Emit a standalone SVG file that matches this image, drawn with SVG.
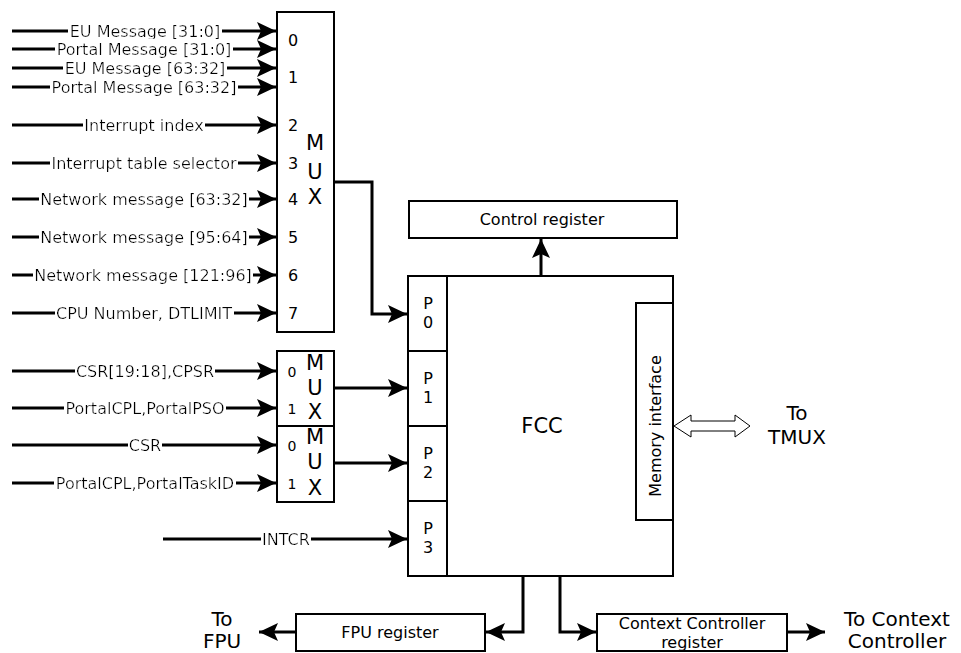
<svg xmlns="http://www.w3.org/2000/svg" width="961" height="653" viewBox="0 0 961 653">
<style>
text{font-family:"DejaVu Sans",Verdana,sans-serif;fill:#000}
.lbl{font-size:16px;text-anchor:middle;dominant-baseline:central}
.num{font-size:16px;text-anchor:middle;dominant-baseline:central}
.sn{font-size:14px;text-anchor:middle;dominant-baseline:central}
.mux{font-size:21px;text-anchor:middle;dominant-baseline:central}
.box{fill:#fff;stroke:#000;stroke-width:2}
.w{stroke:#000;stroke-width:3;fill:none}
.big{font-size:21px;text-anchor:middle;dominant-baseline:central}
.out{font-size:20px;text-anchor:middle;dominant-baseline:central}
.mid{font-size:16px;text-anchor:middle;dominant-baseline:central}
</style>
<defs>
<marker id="ah" markerUnits="userSpaceOnUse" markerWidth="20" markerHeight="20" viewBox="-19 -10 20 20" refX="0" refY="0" orient="auto">
<path d="M0,0 L-19,-9 L-15,0 L-19,9 Z" fill="#000"/>
</marker>
<filter id="bg" x="-0.005" y="0" width="1.01" height="1">
<feFlood flood-color="#fff"/>
<feComposite in="SourceGraphic" operator="over"/>
</filter>
</defs>
<g id="connectors">
<path class="w" d="M12,31 H276" marker-end="url(#ah)"/>
<path class="w" d="M12,49 H276" marker-end="url(#ah)"/>
<path class="w" d="M12,68 H276" marker-end="url(#ah)"/>
<path class="w" d="M12,87 H276" marker-end="url(#ah)"/>
<path class="w" d="M12,125 H276" marker-end="url(#ah)"/>
<path class="w" d="M12,163 H276" marker-end="url(#ah)"/>
<path class="w" d="M12,199 H276" marker-end="url(#ah)"/>
<path class="w" d="M12,237 H276" marker-end="url(#ah)"/>
<path class="w" d="M12,275 H276" marker-end="url(#ah)"/>
<path class="w" d="M12,313 H276" marker-end="url(#ah)"/>
<path class="w" d="M12,371 H276" marker-end="url(#ah)"/>
<path class="w" d="M12,408 H276" marker-end="url(#ah)"/>
<path class="w" d="M12,445 H276" marker-end="url(#ah)"/>
<path class="w" d="M12,483 H276" marker-end="url(#ah)"/>
<path class="w" d="M163,539 H407" marker-end="url(#ah)"/>
<path class="w" d="M334,182 H372 V314 H407" marker-end="url(#ah)"/>
<path class="w" d="M334,388 H407" marker-end="url(#ah)"/>
<path class="w" d="M334,463 H407" marker-end="url(#ah)"/>
<path class="w" d="M541,276 V239" marker-end="url(#ah)"/>
<path class="w" d="M523,577 V632 H486" marker-end="url(#ah)"/>
<path class="w" d="M560,577 V632 H596" marker-end="url(#ah)"/>
<path class="w" d="M296,632 H259" marker-end="url(#ah)"/>
<path class="w" d="M787,632 H825" marker-end="url(#ah)"/>
<path d="M674,426 L691,415 L691,421 L735,421 L735,415 L750,426 L735,437 L735,431 L691,431 L691,437 Z" fill="#fff" stroke="#000" stroke-width="1"/>
<text class="lbl" filter="url(#bg)" x="145" y="31">EU Message [31:0]</text>
<text class="lbl" filter="url(#bg)" x="144" y="49">Portal Message [31:0]</text>
<text class="lbl" filter="url(#bg)" x="145" y="68">EU Message [63:32]</text>
<text class="lbl" filter="url(#bg)" x="144" y="87">Portal Message [63:32]</text>
<text class="lbl" filter="url(#bg)" x="144" y="125">Interrupt index</text>
<text class="lbl" filter="url(#bg)" x="144" y="163">Interrupt table selector</text>
<text class="lbl" filter="url(#bg)" x="144" y="199">Network message [63:32]</text>
<text class="lbl" filter="url(#bg)" x="144" y="237">Network message [95:64]</text>
<text class="lbl" filter="url(#bg)" x="143" y="275">Network message [121:96]</text>
<text class="lbl" filter="url(#bg)" x="144" y="313">CPU Number, DTLIMIT</text>
<text class="lbl" filter="url(#bg)" x="145" y="371">CSR[19:18],CPSR</text>
<text class="lbl" filter="url(#bg)" x="145" y="408">PortalCPL,PortalPSO</text>
<text class="lbl" filter="url(#bg)" x="145" y="445">CSR</text>
<text class="lbl" filter="url(#bg)" x="145" y="483">PortalCPL,PortalTaskID</text>
<text class="lbl" filter="url(#bg)" x="286" y="539">INTCR</text>
</g>
<g id="mux-main">
<rect class="box" x="277" y="12" width="57" height="320"/>
<text class="num" x="293" y="40">0</text>
<text class="num" x="293" y="77">1</text>
<text class="num" x="293" y="125">2</text>
<text class="num" x="293" y="163">3</text>
<text class="num" x="293" y="199">4</text>
<text class="num" x="293" y="237">5</text>
<text class="num" x="293" y="275">6</text>
<text class="num" x="293" y="313">7</text>
<text class="mux" x="315" y="143">M</text>
<text class="mux" x="315" y="172">U</text>
<text class="mux" x="315" y="197">X</text>
</g>
<g id="mux-p1">
<rect class="box" x="277" y="351" width="57" height="75"/>
<text class="sn" x="292" y="372">0</text>
<text class="sn" x="292" y="409">1</text>
<text class="mux" x="315" y="363">M</text>
<text class="mux" x="315" y="388">U</text>
<text class="mux" x="315" y="412">X</text>
</g>
<g id="mux-p2">
<rect class="box" x="277" y="426" width="57" height="76"/>
<text class="sn" x="292" y="446">0</text>
<text class="sn" x="292" y="484">1</text>
<text class="mux" x="315" y="437">M</text>
<text class="mux" x="315" y="462">U</text>
<text class="mux" x="315" y="488">X</text>
</g>
<g id="control-register">
<rect class="box" x="409" y="201" width="268" height="37"/>
<text class="mid" x="542" y="219">Control register</text>
</g>
<g id="fcc">
<rect class="box" x="408" y="276" width="265" height="300"/>
<text class="big" x="542" y="426">FCC</text>
</g>
<g id="p0">
<rect class="box" x="408" y="276" width="39" height="75"/>
<text class="num" x="428" y="303">P</text>
<text class="num" x="428" y="322">0</text>
</g>
<g id="p1">
<rect class="box" x="408" y="351" width="39" height="75"/>
<text class="num" x="428" y="378">P</text>
<text class="num" x="428" y="397">1</text>
</g>
<g id="p2">
<rect class="box" x="408" y="426" width="39" height="75"/>
<text class="num" x="428" y="453">P</text>
<text class="num" x="428" y="472">2</text>
</g>
<g id="p3">
<rect class="box" x="408" y="501" width="39" height="75"/>
<text class="num" x="428" y="528">P</text>
<text class="num" x="428" y="547">3</text>
</g>
<g id="memory-interface">
<rect class="box" x="636" y="303" width="37" height="217"/>
<text class="mid" x="0" y="0" transform="translate(655,426) rotate(-90)">Memory interface</text>
</g>
<g id="to-tmux">
<text class="out" x="797" y="413">To</text>
<text class="out" x="797" y="437">TMUX</text>
</g>
<g id="fpu-register">
<rect class="box" x="296" y="614" width="189" height="37"/>
<text class="mid" x="390" y="632">FPU register</text>
</g>
<g id="to-fpu">
<text class="out" x="222" y="619">To</text>
<text class="out" x="222" y="641">FPU</text>
</g>
<g id="context-controller-register">
<rect class="box" x="597" y="614" width="190" height="37"/>
<text class="mid" x="692" y="623">Context Controller</text>
<text class="mid" x="692" y="642">register</text>
</g>
<g id="to-context-controller">
<text class="out" x="897" y="619">To Context</text>
<text class="out" x="897" y="641">Controller</text>
</g>
</svg>
